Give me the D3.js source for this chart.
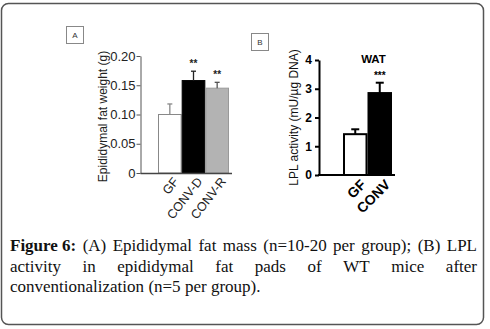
<!DOCTYPE html>
<html>
<head>
<meta charset="utf-8">
<script src="https://cdn.jsdelivr.net/npm/d3@7"></script>
<style>
  body { margin: 0; background: #fff; }
  svg { display: block; }
</style>
</head>
<body>
<svg id="fig" width="490" height="329"></svg>
<script>
// panel A: epididymal fat mass
const groupsA = ["GF", "CONV-D", "CONV-R"];
const meansA = [0.100, 0.158, 0.145];
const errA = [0.018, 0.016, 0.010];
const starsA = ["", "**", "**"];
const ticksA = [0, 0.05, 0.10, 0.15, 0.20];

// panel B: LPL activity
const groupsB = ["GF", "CONV"];
const meansB = [1.42, 2.85];
const errB = [0.17, 0.36];
const starsB = ["", "***"];
const ticksB = [0, 1, 2, 3, 4];

const captionLines = [
  [{t: "Figure 6:", b: true}, "(A)", "Epididymal", "fat", "mass", "(n=10-20", "per", "group);", "(B)", "LPL"],
  ["activity", "in", "epididymal", "fat", "pads", "of", "WT", "mice", "after"],
  ["conventionalization", "(n=5", "per", "group)."]
];

const svg = d3.select("#fig");

// outer frame
svg.append("rect")
    .attr("x", 1.5).attr("y", 3.5)
    .attr("width", 482).attr("height", 321)
    .attr("rx", 7)
    .attr("fill", "none")
    .attr("stroke", "#555")
    .attr("stroke-width", 1.5);

function panelBox(x, y, label) {
    svg.append("rect")
        .attr("x", x + 0.5).attr("y", y + 0.5)
        .attr("width", 17).attr("height", 17)
        .attr("fill", "#fff")
        .attr("stroke", "#888");
    svg.append("text")
        .attr("x", x + 9).attr("y", y + 12)
        .attr("text-anchor", "middle")
        .attr("font-family", "Arial, 'Liberation Sans', sans-serif")
        .attr("font-size", 8)
        .attr("fill", "#333")
        .text(label);
}
panelBox(66, 26, "A");
panelBox(251, 33, "B");

// ---------- panel A ----------
const yA = d3.scaleLinear().domain([0, 0.2]).range([173, 56]);
const xA = d3.scaleBand().domain(groupsA).range([158, 229]).paddingInner(0);
const axisXA = 140.5;

const gA = svg.append("g");

gA.append("g")
    .attr("class", "y-axis")
    .attr("transform", "translate(" + axisXA + ",0)")
    .call(d3.axisLeft(yA)
        .tickValues(ticksA)
        .tickSize(4)
        .tickSizeOuter(0)
        .tickFormat(function(d) { return d === 0 ? "0" : d3.format(".2f")(d); }))
    .call(function(g) {
        g.select(".domain").attr("stroke", "#555");
        g.selectAll(".tick line").attr("stroke", "#555");
        g.selectAll(".tick text")
            .attr("font-family", "Arial, 'Liberation Sans', sans-serif")
            .attr("font-size", 13)
            .attr("fill", "#222")
            .attr("x", -5);
    });

// bars A
const fillA = ["#fff", "#000", "#b3b3b3"];
const strokeA = ["#888", "#000", "#999"];
const errColA = ["#888", "#222", "#555"];

gA.selectAll("rect.bar")
    .data(meansA)
    .enter().append("rect")
    .attr("class", "bar")
    .attr("x", function(d, i) { return xA(groupsA[i]) + 0.5; })
    .attr("y", function(d) { return yA(d); })
    .attr("width", xA.bandwidth() - 1)
    .attr("height", function(d) { return yA(0) - yA(d); })
    .attr("fill", function(d, i) { return fillA[i]; })
    .attr("stroke", function(d, i) { return strokeA[i]; });

gA.selectAll("line.err")
    .data(meansA)
    .enter().append("line")
    .attr("class", "err")
    .attr("x1", function(d, i) { return xA(groupsA[i]) + xA.bandwidth() / 2; })
    .attr("x2", function(d, i) { return xA(groupsA[i]) + xA.bandwidth() / 2; })
    .attr("y1", function(d) { return yA(d); })
    .attr("y2", function(d, i) { return yA(d + errA[i]); })
    .attr("stroke", function(d, i) { return errColA[i]; })
    .attr("stroke-width", 1.3);

gA.selectAll("line.cap")
    .data(meansA)
    .enter().append("line")
    .attr("class", "cap")
    .attr("x1", function(d, i) { return xA(groupsA[i]) + xA.bandwidth() / 2 - 2.5; })
    .attr("x2", function(d, i) { return xA(groupsA[i]) + xA.bandwidth() / 2 + 2.5; })
    .attr("y1", function(d, i) { return yA(d + errA[i]); })
    .attr("y2", function(d, i) { return yA(d + errA[i]); })
    .attr("stroke", function(d, i) { return errColA[i]; })
    .attr("stroke-width", 1.3);

gA.selectAll("text.star")
    .data(meansA)
    .enter().append("text")
    .attr("class", "star")
    .attr("x", function(d, i) { return xA(groupsA[i]) + xA.bandwidth() / 2; })
    .attr("y", function(d, i) { return yA(d + errA[i]) - 4; })
    .attr("text-anchor", "middle")
    .attr("font-family", "Arial, 'Liberation Sans', sans-serif")
    .attr("font-size", 10)
    .attr("font-weight", "bold")
    .attr("fill", "#222")
    .text(function(d, i) { return starsA[i]; });

// x-axis line A
gA.append("line")
    .attr("x1", axisXA).attr("x2", xA.range()[1] + 3)
    .attr("y1", yA(0) + 0.5).attr("y2", yA(0) + 0.5)
    .attr("stroke", "#444")
    .attr("stroke-width", 1.3);

gA.selectAll("text.xlab")
    .data(groupsA)
    .enter().append("text")
    .attr("class", "xlab")
    .attr("transform", function(d) {
        return "translate(" + (xA(d) + xA.bandwidth() / 2 + 6) + "," + (yA(0) + 6) + ") rotate(-52)";
    })
    .attr("text-anchor", "end")
    .attr("dy", "0.35em")
    .attr("font-family", "Arial, 'Liberation Sans', sans-serif")
    .attr("font-size", 12.5)
    .attr("fill", "#222")
    .text(function(d) { return d; });

gA.append("text")
    .attr("transform", "translate(107," + ((yA(0) + yA(0.2)) / 2 + 2) + ") rotate(-90)")
    .attr("text-anchor", "middle")
    .attr("font-family", "Arial, 'Liberation Sans', sans-serif")
    .attr("font-size", 12)
    .attr("fill", "#222")
    .text("Epididymal fat weight (g)");

// ---------- panel B ----------
const yB = d3.scaleLinear().domain([0, 4]).range([175, 60]);
const xB = d3.scaleBand().domain(groupsB).range([343, 392]).paddingInner(0);
const axisXB = 319;

const gB = svg.append("g");

gB.append("g")
    .attr("class", "y-axis")
    .attr("transform", "translate(" + axisXB + ",0)")
    .call(d3.axisLeft(yB)
        .tickValues(ticksB)
        .tickSize(4)
        .tickSizeOuter(0)
        .tickFormat(d3.format("d")))
    .call(function(g) {
        g.select(".domain").attr("stroke", "#000").attr("stroke-width", 2);
        g.selectAll(".tick line").attr("stroke", "#000").attr("stroke-width", 2);
        g.selectAll(".tick text")
            .attr("font-family", "Arial, 'Liberation Sans', sans-serif")
            .attr("font-size", 12)
            .attr("font-weight", "bold")
            .attr("fill", "#000")
            .attr("x", -7);
    });

gB.selectAll("rect.bar")
    .data(meansB)
    .enter().append("rect")
    .attr("class", "bar")
    .attr("x", function(d, i) { return xB(groupsB[i]) + 1; })
    .attr("y", function(d) { return yB(d); })
    .attr("width", xB.bandwidth() - 2)
    .attr("height", function(d) { return yB(0) - yB(d); })
    .attr("fill", function(d, i) { return i === 0 ? "#fff" : "#000"; })
    .attr("stroke", "#000")
    .attr("stroke-width", 2);

gB.selectAll("line.err")
    .data(meansB)
    .enter().append("line")
    .attr("class", "err")
    .attr("x1", function(d, i) { return xB(groupsB[i]) + xB.bandwidth() / 2; })
    .attr("x2", function(d, i) { return xB(groupsB[i]) + xB.bandwidth() / 2; })
    .attr("y1", function(d) { return yB(d); })
    .attr("y2", function(d, i) { return yB(d + errB[i]); })
    .attr("stroke", "#000")
    .attr("stroke-width", 2);

gB.selectAll("line.cap")
    .data(meansB)
    .enter().append("line")
    .attr("class", "cap")
    .attr("x1", function(d, i) { return xB(groupsB[i]) + xB.bandwidth() / 2 - 4; })
    .attr("x2", function(d, i) { return xB(groupsB[i]) + xB.bandwidth() / 2 + 4; })
    .attr("y1", function(d, i) { return yB(d + errB[i]); })
    .attr("y2", function(d, i) { return yB(d + errB[i]); })
    .attr("stroke", "#000")
    .attr("stroke-width", 2);

gB.selectAll("text.star")
    .data(meansB)
    .enter().append("text")
    .attr("class", "star")
    .attr("x", function(d, i) { return xB(groupsB[i]) + xB.bandwidth() / 2; })
    .attr("y", function(d, i) { return yB(d + errB[i]) - 4; })
    .attr("text-anchor", "middle")
    .attr("font-family", "Arial, 'Liberation Sans', sans-serif")
    .attr("font-size", 10)
    .attr("font-weight", "bold")
    .text(function(d, i) { return starsB[i]; });

gB.append("line")
    .attr("x1", axisXB - 1).attr("x2", xB.range()[1] + 3)
    .attr("y1", yB(0)).attr("y2", yB(0))
    .attr("stroke", "#000")
    .attr("stroke-width", 2);

gB.selectAll("text.xlab")
    .data(groupsB)
    .enter().append("text")
    .attr("class", "xlab")
    .attr("transform", function(d) {
        return "translate(" + (xB(d) + xB.bandwidth() / 2 + 8) + "," + (yB(0) + 7) + ") rotate(-45)";
    })
    .attr("text-anchor", "end")
    .attr("dy", "0.35em")
    .attr("font-family", "Arial, 'Liberation Sans', sans-serif")
    .attr("font-size", 14)
    .attr("font-weight", "bold")
    .attr("fill", "#000")
    .text(function(d) { return d; });

gB.append("text")
    .attr("x", (xB.range()[0] + xB.range()[1]) / 2 + 6)
    .attr("y", yB(4) + 3)
    .attr("text-anchor", "middle")
    .attr("font-family", "Arial, 'Liberation Sans', sans-serif")
    .attr("font-size", 11.5)
    .attr("font-weight", "bold")
    .text("WAT");

gB.append("text")
    .attr("transform", "translate(298," + ((yB(0) + yB(4)) / 2) + ") rotate(-90)")
    .attr("text-anchor", "middle")
    .attr("font-family", "Arial, 'Liberation Sans', sans-serif")
    .attr("font-size", 12)
    .attr("fill", "#111")
    .text("LPL activity (mU/\u00b5g DNA)");

// ---------- caption (justified) ----------
const capLeft = 10, capRight = 477, capTop = 251, lineH = 20.5;
const capFont = "'Liberation Serif', 'Times New Roman', serif";
const cap = svg.append("g").attr("font-family", capFont).attr("font-size", 17).attr("fill", "#111");

captionLines.forEach(function(words, li) {
    const y = capTop + li * lineH;
    const nodes = words.map(function(w) {
        const o = typeof w === "string" ? {t: w, b: false} : w;
        return cap.append("text")
            .attr("y", y)
            .attr("font-weight", o.b ? "bold" : null)
            .text(o.t);
    });
    const widths = nodes.map(function(n) { return n.node().getComputedTextLength(); });
    const total = d3.sum(widths);
    const last = li === captionLines.length - 1;
    const gap = last ? 4.3 : (capRight - capLeft - total) / (words.length - 1);
    let x = capLeft;
    nodes.forEach(function(n, i) {
        n.attr("x", x);
        x += widths[i] + gap;
    });
});
</script>
</body>
</html>
